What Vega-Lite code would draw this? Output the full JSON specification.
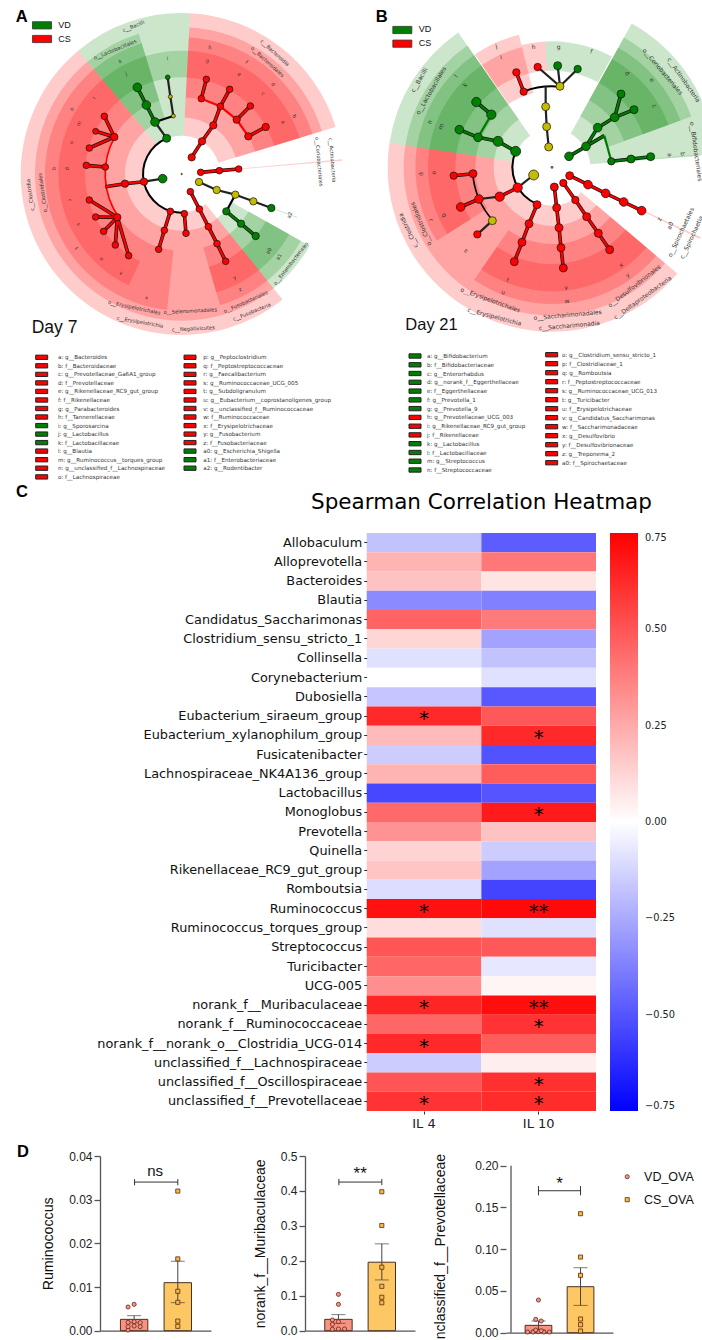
{"$schema":"https://vega.github.io/schema/vega-lite/v6.json","padding":0,"background":"white","bounds":"flush","spacing":0,"columns":6,"align":{"row":"each","column":"none"},
"config":{"view":{"stroke":null},"axis":{"grid":false}},
"datasets":{
"none":[],
"wedgesA":[
{"g":"CS","t0":3,"t1":73,"r0":115,"r1":483},{"g":"CS","t0":3,"t1":73,"r0":170,"r1":440},
{"g":"CS","t0":3,"t1":21.7,"r0":230,"r1":410},{"g":"CS","t0":21.7,"t1":41,"r0":230,"r1":410},{"g":"CS","t0":41,"t1":53.5,"r0":230,"r1":410},{"g":"CS","t0":53.5,"t1":73,"r0":230,"r1":410},
{"g":"CS","t0":3,"t1":21.7,"r0":290,"r1":370},{"g":"CS","t0":21.7,"t1":41,"r0":290,"r1":370},{"g":"CS","t0":41,"t1":53.5,"r0":290,"r1":370},{"g":"CS","t0":53.5,"t1":73,"r0":290,"r1":370},
{"g":"CS","t0":84.7,"t1":85.3,"r0":170,"r1":483},
{"g":"VD","t0":320,"t1":363,"r0":115,"r1":483},{"g":"VD","t0":320,"t1":343,"r0":170,"r1":440},{"g":"VD","t0":320,"t1":343,"r0":230,"r1":410},{"g":"VD","t0":320,"t1":343,"r0":290,"r1":370},{"g":"VD","t0":343,"t1":363,"r0":290,"r1":370},
{"g":"CS","t0":205.4,"t1":320,"r0":115,"r1":483},{"g":"CS","t0":205.4,"t1":320,"r0":170,"r1":440},
{"g":"CS","t0":280.3,"t1":320,"r0":230,"r1":410},{"g":"CS","t0":264.5,"t1":280.3,"r0":230,"r1":410},{"g":"CS","t0":205.4,"t1":264.5,"r0":230,"r1":410},
{"g":"CS","t0":301.4,"t1":320,"r0":290,"r1":370},{"g":"CS","t0":290.4,"t1":301.4,"r0":290,"r1":370},{"g":"CS","t0":280.3,"t1":290.4,"r0":290,"r1":370},{"g":"CS","t0":264.5,"t1":280.3,"r0":290,"r1":370},
{"g":"CS","t0":252.3,"t1":264.5,"r0":290,"r1":370},{"g":"CS","t0":243.4,"t1":252.3,"r0":290,"r1":370},{"g":"CS","t0":234,"t1":243.4,"r0":290,"r1":370},{"g":"CS","t0":220.4,"t1":234,"r0":290,"r1":370},{"g":"CS","t0":205.4,"t1":220.4,"r0":290,"r1":370},
{"g":"CS","t0":186.1,"t1":205.4,"r0":115,"r1":483},{"g":"CS","t0":186.1,"t1":205.4,"r0":170,"r1":440},{"g":"CS","t0":186.1,"t1":205.4,"r0":230,"r1":410},
{"g":"CS","t0":163.7,"t1":186.1,"r0":115,"r1":483},{"g":"CS","t0":163.7,"t1":186.1,"r0":170,"r1":440},
{"g":"CS","t0":141.2,"t1":163.7,"r0":115,"r1":483},{"g":"CS","t0":141.2,"t1":163.7,"r0":170,"r1":440},{"g":"CS","t0":141.2,"t1":163.7,"r0":230,"r1":410},{"g":"CS","t0":141.2,"t1":163.7,"r0":290,"r1":370},
{"g":"VD","t0":119.3,"t1":141.2,"r0":170,"r1":440},{"g":"VD","t0":119.3,"t1":141.2,"r0":230,"r1":410},{"g":"VD","t0":119.3,"t1":141.2,"r0":290,"r1":370},
{"g":"VD","t0":110.4,"t1":110.9,"r0":290,"r1":370}],
"spineA":[{"g":"bb","t0":176,"t1":337,"r0":113,"r1":119},{"g":"CS","t0":236,"t1":299,"r0":227,"r1":232}],
"edgesA":[
{"x":500,"y":415,"x2":465,"y2":366,"k":"ns"},{"x":465,"y":366,"x2":520,"y2":348,"k":"bb"},{"x":520,"y":348,"x2":511,"y2":290,"k":"ns"},{"x":511,"y":290,"x2":503,"y2":232,"k":"ns"},
{"x":465,"y":366,"x2":439,"y2":315,"k":"VD"},{"x":439,"y":315,"x2":412,"y2":262,"k":"VD"},
{"x":575,"y":472,"x2":606,"y2":424,"k":"CS"},{"x":606,"y":424,"x2":640,"y2":376,"k":"CS"},{"x":640,"y":376,"x2":661,"y2":319,"k":"CS"},{"x":661,"y":319,"x2":689,"y2":268,"k":"CS"},
{"x":661,"y":319,"x2":604,"y2":296,"k":"thin"},{"x":604,"y":296,"x2":619,"y2":238,"k":"CS"},{"x":661,"y":319,"x2":710,"y2":359,"k":"thin"},{"x":710,"y":359,"x2":751,"y2":318,"k":"CS"},{"x":710,"y":359,"x2":745,"y2":409,"k":"thin"},{"x":745,"y":409,"x2":797,"y2":381,"k":"CS"},
{"x":602,"y":517,"x2":658,"y2":512,"k":"CS"},{"x":658,"y":512,"x2":716,"y2":507,"k":"CS"},
{"x":597,"y":546,"x2":650,"y2":570,"k":"ns"},{"x":650,"y":570,"x2":706,"y2":584,"k":"ns"},{"x":706,"y":584,"x2":760,"y2":604,"k":"ns"},{"x":760,"y":604,"x2":814,"y2":624,"k":"ns"},
{"x":706,"y":584,"x2":679,"y2":634,"k":"bb"},{"x":679,"y":634,"x2":723,"y2":671,"k":"VD"},{"x":723,"y":671,"x2":767,"y2":708,"k":"VD"},
{"x":571,"y":575,"x2":598,"y2":627,"k":"CS"},{"x":598,"y":627,"x2":625,"y2":680,"k":"CS"},{"x":625,"y":680,"x2":651,"y2":731,"k":"CS"},{"x":651,"y":731,"x2":677,"y2":784,"k":"CS"},
{"x":553,"y":641,"x2":558,"y2":700,"k":"CS"},{"x":511,"y":634,"x2":493,"y2":691,"k":"CS"},{"x":493,"y":691,"x2":476,"y2":748,"k":"CS"},
{"x":432,"y":545,"x2":488,"y2":536,"k":"ns"},{"x":432,"y":545,"x2":375,"y2":551,"k":"CS"},{"x":375,"y":551,"x2":316,"y2":560,"k":"CS"},
{"x":343,"y":411,"x2":313,"y2":349,"k":"CS"},{"x":343,"y":411,"x2":287,"y2":394,"k":"CS"},{"x":343,"y":411,"x2":268,"y2":444,"k":"CS"},{"x":316,"y":501,"x2":259,"y2":496,"k":"CS"},
{"x":352,"y":652,"x2":268,"y2":600,"k":"CS"},{"x":352,"y":652,"x2":287,"y2":651,"k":"CS"},{"x":352,"y":652,"x2":311,"y2":694,"k":"CS"},{"x":352,"y":652,"x2":346,"y2":735,"k":"CS"},{"x":352,"y":652,"x2":386,"y2":767,"k":"CS"}],
"nodesA":[
{"x":545,"y":522,"g":"ns","abund":2},{"x":500,"y":415,"g":"VD","abund":64},{"x":465,"y":366,"g":"VD","abund":75},{"x":439,"y":315,"g":"VD","abund":75},{"x":412,"y":262,"g":"VD","abund":75},{"x":520,"y":348,"g":"ns","abund":16},{"x":511,"y":290,"g":"ns","abund":16},{"x":503,"y":232,"g":"VD","abund":22},
{"x":575,"y":472,"g":"CS","abund":54},{"x":606,"y":424,"g":"CS","abund":54},{"x":640,"y":376,"g":"CS","abund":54},{"x":661,"y":319,"g":"CS","abund":44},{"x":689,"y":268,"g":"CS","abund":44},{"x":604,"y":296,"g":"CS","abund":44},{"x":619,"y":238,"g":"CS","abund":44},{"x":710,"y":359,"g":"CS","abund":54},{"x":751,"y":318,"g":"CS","abund":44},{"x":745,"y":409,"g":"CS","abund":54},{"x":797,"y":381,"g":"CS","abund":54},
{"x":602,"y":517,"g":"CS","abund":44},{"x":658,"y":512,"g":"CS","abund":44},{"x":716,"y":507,"g":"CS","abund":44},
{"x":597,"y":546,"g":"ns","abund":54},{"x":650,"y":570,"g":"ns","abund":54},{"x":706,"y":584,"g":"ns","abund":54},{"x":760,"y":604,"g":"ns","abund":54},{"x":814,"y":624,"g":"VD","abund":54},
{"x":679,"y":634,"g":"VD","abund":54},{"x":723,"y":671,"g":"VD","abund":54},{"x":767,"y":708,"g":"VD","abund":54},
{"x":571,"y":575,"g":"CS","abund":44},{"x":598,"y":627,"g":"CS","abund":44},{"x":625,"y":680,"g":"CS","abund":44},{"x":651,"y":731,"g":"CS","abund":44},{"x":677,"y":784,"g":"CS","abund":44},
{"x":553,"y":641,"g":"CS","abund":44},{"x":558,"y":700,"g":"CS","abund":44},{"x":511,"y":634,"g":"CS","abund":44},{"x":493,"y":691,"g":"CS","abund":44},{"x":476,"y":748,"g":"CS","abund":44},
{"x":432,"y":545,"g":"CS","abund":54},{"x":375,"y":551,"g":"CS","abund":54},{"x":488,"y":536,"g":"VD","abund":75},
{"x":343,"y":411,"g":"CS","abund":54},{"x":313,"y":349,"g":"CS","abund":44},{"x":287,"y":394,"g":"CS","abund":36},{"x":268,"y":444,"g":"CS","abund":44},{"x":316,"y":501,"g":"CS","abund":44},{"x":259,"y":496,"g":"CS","abund":44},
{"x":352,"y":652,"g":"CS","abund":54},{"x":268,"y":600,"g":"CS","abund":44},{"x":287,"y":651,"g":"CS","abund":44},{"x":311,"y":694,"g":"CS","abund":44},{"x":346,"y":735,"g":"CS","abund":44},{"x":386,"y":767,"g":"CS","abund":44}],
"labelsA":[
{"x":400,"y":78,"t":"c__Bacilli","a":-22},{"x":345,"y":148,"t":"o__Lactobacillales","a":-22},{"x":360,"y":183,"t":"k","a":-22},{"x":378,"y":220,"t":"j","a":-20},{"x":502,"y":175,"t":"i","a":0},
{"x":630,"y":142,"t":"h","a":10},{"x":622,"y":181,"t":"g","a":10},{"x":740,"y":186,"t":"f","a":30},{"x":718,"y":222,"t":"e","a":30},{"x":820,"y":252,"t":"d","a":45},{"x":790,"y":280,"t":"c","a":45},{"x":884,"y":348,"t":"b","a":62},{"x":850,"y":366,"t":"a","a":62},
{"x":825,"y":158,"t":"c__Bacteroidia","a":42},{"x":803,"y":185,"t":"o__Bacteroidales","a":42},{"x":998,"y":480,"t":"c__Actinobacteria","a":85},{"x":958,"y":485,"t":"o__Coriobacteriales","a":85},
{"x":868,"y":645,"t":"a2","a":-70},{"x":872,"y":790,"t":"o__Enterobacteriales","a":-52},{"x":836,"y":770,"t":"a1","a":-60},{"x":806,"y":752,"t":"a0","a":-60},
{"x":720,"y":867,"t":"z","a":-30},{"x":703,"y":832,"t":"y","a":-30},{"x":737,"y":905,"t":"o__Fusobacteriales","a":-24},{"x":755,"y":935,"t":"c__Fusobacteria","a":-22},
{"x":571,"y":932,"t":"o__Selenomonadales","a":-3},{"x":580,"y":985,"t":"c__Negativicutes","a":-3},{"x":420,"y":965,"t":"c__Erysipelotrichia","a":10},{"x":403,"y":922,"t":"o__Erysipelotrichales","a":12},{"x":440,"y":892,"t":"x","a":10},
{"x":363,"y":818,"t":"v","a":30},{"x":305,"y":775,"t":"u","a":40},{"x":230,"y":745,"t":"t","a":50},{"x":237,"y":672,"t":"s","a":60},{"x":210,"y":600,"t":"r","a":75},{"x":165,"y":505,"t":"q","a":85},{"x":204,"y":506,"t":"p","a":85},{"x":214,"y":428,"t":"n","a":-75},{"x":236,"y":370,"t":"m","a":-65},{"x":282,"y":294,"t":"l","a":-55},{"x":215,"y":327,"t":"o","a":-60},
{"x":90,"y":585,"t":"c__Clostridia","a":-98},{"x":127,"y":578,"t":"o__Clostridiales","a":-98}],
"capsA":[{"x":175,"y":75,"t":"VD"},{"x":175,"y":117,"t":"CS"}],
"dayA":[{"x":95,"y":985,"t":"Day 7"}],
"swA":[{"x":126,"y":76,"g":"VD"},{"x":126,"y":117,"g":"CS"}],
"letterA":[{"x":65,"y":52,"t":"A"}],
"wedgesB":[
{"g":"VD","t0":278.5,"t1":325.2,"r0":115,"r1":493},{"g":"VD","t0":278.5,"t1":325.2,"r0":175,"r1":445},{"g":"VD","t0":301.6,"t1":325.2,"r0":230,"r1":410},{"g":"VD","t0":278.5,"t1":301.6,"r0":230,"r1":410},{"g":"VD","t0":301.6,"t1":325.2,"r0":290,"r1":372},{"g":"VD","t0":278.5,"t1":301.6,"r0":290,"r1":372},
{"g":"CS","t0":325.6,"t1":346,"r0":230,"r1":410},{"g":"CS","t0":325.6,"t1":346,"r0":290,"r1":372},{"g":"CS","t0":346,"t1":357,"r0":290,"r1":378},{"g":"VD","t0":357,"t1":368.4,"r0":290,"r1":378},{"g":"VD","t0":368.4,"t1":388.4,"r0":290,"r1":378},
{"g":"VD","t0":29,"t1":85.3,"r0":115,"r1":493},{"g":"VD","t0":29,"t1":70,"r0":175,"r1":445},{"g":"VD","t0":29,"t1":70,"r0":230,"r1":410},{"g":"VD","t0":29,"t1":49.3,"r0":290,"r1":372},{"g":"VD","t0":49.3,"t1":70,"r0":290,"r1":372},{"g":"VD","t0":85,"t1":85.6,"r0":175,"r1":445},
{"g":"CS","t0":214.7,"t1":278.5,"r0":115,"r1":493},{"g":"CS","t0":214.7,"t1":278.5,"r0":175,"r1":445},{"g":"CS","t0":256.7,"t1":278.5,"r0":230,"r1":410},{"g":"CS","t0":237.5,"t1":256.7,"r0":230,"r1":410},{"g":"CS","t0":256.7,"t1":278.5,"r0":290,"r1":372},{"g":"CS","t0":237.5,"t1":256.7,"r0":290,"r1":372},
{"g":"CS","t0":187.7,"t1":214.7,"r0":115,"r1":493},{"g":"CS","t0":187.7,"t1":214.7,"r0":175,"r1":445},{"g":"CS","t0":187.7,"t1":214.7,"r0":230,"r1":410},{"g":"CS","t0":187.7,"t1":214.7,"r0":290,"r1":372},
{"g":"CS","t0":158.1,"t1":187.7,"r0":115,"r1":493},{"g":"CS","t0":158.1,"t1":187.7,"r0":175,"r1":445},{"g":"CS","t0":158.1,"t1":187.7,"r0":230,"r1":410},{"g":"CS","t0":158.1,"t1":187.7,"r0":290,"r1":372},
{"g":"CS","t0":130.3,"t1":158.1,"r0":115,"r1":493},{"g":"CS","t0":130.3,"t1":158.1,"r0":175,"r1":445},{"g":"CS","t0":130.3,"t1":158.1,"r0":230,"r1":410},{"g":"CS","t0":130.3,"t1":158.1,"r0":290,"r1":372},
{"g":"CS","t0":115.2,"t1":115.9,"r0":290,"r1":493}],
"spineB":[{"g":"bb","t0":202,"t1":294,"r0":116,"r1":122},{"g":"bb","t0":339.5,"t1":365.6,"r0":240,"r1":246},{"g":"bb","t0":228,"t1":265,"r0":236,"r1":241}],
"edgesB":[
{"x":494,"y":454,"x2":441,"y2":424,"k":"VD"},{"x":441,"y":424,"x2":381,"y2":412,"k":"VD"},{"x":381,"y":412,"x2":325,"y2":389,"k":"VD"},{"x":381,"y":412,"x2":421,"y2":344,"k":"thing"},{"x":421,"y":344,"x2":376,"y2":306,"k":"VD"},
{"x":500,"y":563,"x2":548,"y2":525,"k":"ns"},{"x":500,"y":563,"x2":446,"y2":590,"k":"CS"},{"x":446,"y":590,"x2":384,"y2":597,"k":"ns"},{"x":384,"y":597,"x2":329,"y2":621,"k":"CS"},{"x":366,"y":521,"x2":308,"y2":527,"k":"CS"},{"x":424,"y":662,"x2":379,"y2":703,"k":"ns"},
{"x":558,"y":614,"x2":534,"y2":671,"k":"CS"},{"x":534,"y":671,"x2":513,"y2":727,"k":"CS"},{"x":513,"y":727,"x2":490,"y2":785,"k":"CS"},
{"x":610,"y":561,"x2":617,"y2":623,"k":"CS"},{"x":617,"y":623,"x2":624,"y2":683,"k":"CS"},{"x":624,"y":683,"x2":630,"y2":743,"k":"CS"},{"x":630,"y":743,"x2":637,"y2":804,"k":"CS"},
{"x":637,"y":549,"x2":673,"y2":600,"k":"CS"},{"x":673,"y":600,"x2":707,"y2":650,"k":"CS"},{"x":707,"y":650,"x2":742,"y2":700,"k":"CS"},{"x":742,"y":700,"x2":776,"y2":749,"k":"CS"},
{"x":656,"y":527,"x2":711,"y2":554,"k":"CS"},{"x":711,"y":554,"x2":764,"y2":580,"k":"CS"},{"x":764,"y":580,"x2":818,"y2":606,"k":"CS"},{"x":818,"y":606,"x2":872,"y2":632,"k":"CS"},
{"x":654,"y":469,"x2":705,"y2":439,"k":"VD"},{"x":705,"y":439,"x2":740,"y2":383,"k":"VD"},{"x":740,"y":383,"x2":791,"y2":352,"k":"VD"},{"x":791,"y":352,"x2":810,"y2":282,"k":"VD"},{"x":791,"y":352,"x2":849,"y2":329,"k":"VD"},{"x":705,"y":439,"x2":760,"y2":407,"k":"VD"},{"x":760,"y":407,"x2":781,"y2":484,"k":"thing"},{"x":781,"y":484,"x2":840,"y2":477,"k":"VD"},{"x":840,"y":477,"x2":899,"y2":470,"k":"VD"},
{"x":518,"y":275,"x2":496,"y2":217,"k":"CS"},{"x":627,"y":259,"x2":560,"y2":201,"k":"ns"},{"x":627,"y":259,"x2":620,"y2":197,"k":"ns"},{"x":627,"y":259,"x2":680,"y2":207,"k":"ns"},{"x":584,"y":320,"x2":584,"y2":258,"k":"ns"},{"x":584,"y":320,"x2":587,"y2":380,"k":"ns"},{"x":587,"y":380,"x2":593,"y2":441,"k":"ns"}],
"nodesB":[
{"x":603,"y":502,"g":"ns","abund":4},{"x":494,"y":454,"g":"VD","abund":100},{"x":441,"y":424,"g":"VD","abund":100},{"x":381,"y":412,"g":"VD","abund":75},{"x":325,"y":389,"g":"VD","abund":75},{"x":421,"y":344,"g":"VD","abund":87},{"x":376,"y":306,"g":"VD","abund":87},
{"x":548,"y":525,"g":"ns","abund":100},{"x":500,"y":563,"g":"CS","abund":87},{"x":446,"y":590,"g":"CS","abund":87},{"x":384,"y":597,"g":"CS","abund":75},{"x":329,"y":621,"g":"CS","abund":75},{"x":366,"y":521,"g":"CS","abund":64},{"x":308,"y":527,"g":"CS","abund":54},{"x":424,"y":662,"g":"ns","abund":64},{"x":379,"y":703,"g":"CS","abund":54},
{"x":558,"y":614,"g":"CS","abund":64},{"x":534,"y":671,"g":"CS","abund":64},{"x":513,"y":727,"g":"CS","abund":64},{"x":490,"y":785,"g":"CS","abund":64},
{"x":610,"y":561,"g":"CS","abund":64},{"x":617,"y":623,"g":"CS","abund":64},{"x":624,"y":683,"g":"CS","abund":64},{"x":630,"y":743,"g":"CS","abund":64},{"x":637,"y":804,"g":"CS","abund":64},
{"x":637,"y":549,"g":"CS","abund":54},{"x":673,"y":600,"g":"CS","abund":54},{"x":707,"y":650,"g":"CS","abund":64},{"x":742,"y":700,"g":"CS","abund":64},{"x":776,"y":749,"g":"CS","abund":64},
{"x":656,"y":527,"g":"CS","abund":64},{"x":711,"y":554,"g":"CS","abund":75},{"x":764,"y":580,"g":"CS","abund":75},{"x":818,"y":606,"g":"CS","abund":75},{"x":872,"y":632,"g":"CS","abund":75},
{"x":654,"y":469,"g":"VD","abund":75},{"x":705,"y":439,"g":"VD","abund":75},{"x":740,"y":383,"g":"VD","abund":75},{"x":791,"y":352,"g":"VD","abund":75},{"x":810,"y":282,"g":"VD","abund":64},{"x":849,"y":329,"g":"VD","abund":64},{"x":781,"y":484,"g":"VD","abund":54},{"x":840,"y":477,"g":"VD","abund":64},{"x":899,"y":470,"g":"VD","abund":64},
{"x":518,"y":275,"g":"CS","abund":54},{"x":496,"y":217,"g":"CS","abund":54},{"x":560,"y":201,"g":"CS","abund":54},{"x":627,"y":259,"g":"ns","abund":64},{"x":620,"y":197,"g":"VD","abund":64},{"x":680,"y":207,"g":"VD","abund":54},{"x":584,"y":320,"g":"ns","abund":64},{"x":587,"y":380,"g":"ns","abund":64},{"x":593,"y":441,"g":"ns","abund":64}],
"labelsB":[
{"x":205,"y":240,"t":"c__Bacilli","a":-60},{"x":240,"y":272,"t":"o__Lactobacillales","a":-60},{"x":315,"y":228,"t":"l","a":-50},{"x":342,"y":255,"t":"k","a":-50},{"x":236,"y":366,"t":"n","a":-70},{"x":270,"y":380,"t":"m","a":-70},{"x":436,"y":138,"t":"j","a":-15},{"x":450,"y":172,"t":"i","a":-15},{"x":548,"y":140,"t":"h","a":0},{"x":623,"y":140,"t":"g","a":0},{"x":721,"y":155,"t":"f","a":15},
{"x":998,"y":240,"t":"c__Actinobacteria","a":55},{"x":935,"y":215,"t":"o__Coriobacteriales","a":50},{"x":829,"y":220,"t":"d","a":35},{"x":903,"y":240,"t":"e","a":45},{"x":910,"y":318,"t":"c","a":60},{"x":1035,"y":455,"t":"o__Bifidobacteriales","a":82},{"x":995,"y":462,"t":"b","a":85},{"x":956,"y":465,"t":"a","a":85},
{"x":925,"y":658,"t":"z","a":-65},{"x":958,"y":677,"t":"a0","a":-65},{"x":990,"y":697,"t":"o__Spirochaetales","a":-65},{"x":1022,"y":712,"t":"c__Spirochaetia","a":-65},
{"x":875,"y":893,"t":"c__Deltaproteobacteria","a":-36},{"x":850,"y":858,"t":"o__Desulfovibrionales","a":-38},{"x":810,"y":795,"t":"x","a":-35},{"x":830,"y":825,"t":"y","a":-35},
{"x":655,"y":977,"t":"c__Saccharimonadia","a":-5},{"x":650,"y":945,"t":"o__Saccharimonadales","a":-5},{"x":648,"y":903,"t":"w","a":-5},{"x":645,"y":863,"t":"v","a":-5},
{"x":430,"y":950,"t":"c__Erysipelotrichia","a":15},{"x":418,"y":900,"t":"o__Erysipelotrichales","a":20},{"x":457,"y":877,"t":"u","a":20},{"x":470,"y":840,"t":"t","a":20},
{"x":345,"y":752,"t":"s","a":45},{"x":240,"y":660,"t":"r","a":70},{"x":280,"y":645,"t":"q","a":70},{"x":212,"y":522,"t":"p","a":85},{"x":250,"y":518,"t":"o","a":85},{"x":210,"y":672,"t":"o__Clostridiales","a":-112},{"x":172,"y":692,"t":"c__Clostridia","a":-115}],
"capsB":[{"x":203,"y":88,"t":"VD"},{"x":203,"y":130,"t":"CS"}],
"dayB":[{"x":163,"y":975,"t":"Day 21"}],
"swB":[{"x":154,"y":90,"g":"VD"},{"x":154,"y":131,"g":"CS"}],
"letterB":[{"x":92,"y":52,"t":"B"}],
"lists":[
{"sx":41.7,"tx":58,"y":357.3,"g":"CS","t":"a: g__Bacteroides"},{"sx":41.7,"tx":58,"y":365.8,"g":"CS","t":"b: f__Bacteroidaceae"},{"sx":41.7,"tx":58,"y":374.4,"g":"CS","t":"c: g__Prevotellaceae_Ga6A1_group"},{"sx":41.7,"tx":58,"y":382.9,"g":"CS","t":"d: f__Prevotellaceae"},{"sx":41.7,"tx":58,"y":391.4,"g":"CS","t":"e: g__Rikenellaceae_RC9_gut_group"},{"sx":41.7,"tx":58,"y":400,"g":"CS","t":"f: f__Rikenellaceae"},{"sx":41.7,"tx":58,"y":408.5,"g":"CS","t":"g: g__Parabacteroides"},{"sx":41.7,"tx":58,"y":417,"g":"CS","t":"h: f__Tannerellaceae"},{"sx":41.7,"tx":58,"y":425.6,"g":"VD","t":"i: g__Sporosarcina"},{"sx":41.7,"tx":58,"y":434.1,"g":"VD","t":"j: g__Lactobacillus"},{"sx":41.7,"tx":58,"y":442.6,"g":"VD","t":"k: f__Lactobacillaceae"},{"sx":41.7,"tx":58,"y":451.1,"g":"CS","t":"l: g__Blautia"},{"sx":41.7,"tx":58,"y":459.7,"g":"CS","t":"m: g__Ruminococcus__torques_group"},{"sx":41.7,"tx":58,"y":468.2,"g":"CS","t":"n: g__unclassified_f__Lachnospiraceae"},{"sx":41.7,"tx":58,"y":476.9,"g":"CS","t":"o: f__Lachnospiraceae"},
{"sx":190,"tx":203.3,"y":357.3,"g":"CS","t":"p: g__Peptoclostridium"},{"sx":190,"tx":203.3,"y":365.8,"g":"CS","t":"q: f__Peptostreptococcaceae"},{"sx":190,"tx":203.3,"y":374.4,"g":"CS","t":"r: g__Faecalibacterium"},{"sx":190,"tx":203.3,"y":382.9,"g":"CS","t":"s: g__Ruminococcaceae_UCG_005"},{"sx":190,"tx":203.3,"y":391.4,"g":"CS","t":"t: g__Subdoligranulum"},{"sx":190,"tx":203.3,"y":400,"g":"CS","t":"u: g__Eubacterium__coprostanoligenes_group"},{"sx":190,"tx":203.3,"y":408.5,"g":"CS","t":"v: g__unclassified_f__Ruminococcaceae"},{"sx":190,"tx":203.3,"y":417,"g":"CS","t":"w: f__Ruminococcaceae"},{"sx":190,"tx":203.3,"y":425.6,"g":"CS","t":"x: f__Erysipelotrichaceae"},{"sx":190,"tx":203.3,"y":434.1,"g":"CS","t":"y: g__Fusobacterium"},{"sx":190,"tx":203.3,"y":442.6,"g":"CS","t":"z: f__Fusobacteriaceae"},{"sx":190,"tx":203.3,"y":451.1,"g":"VD","t":"a0: g__Escherichia_Shigella"},{"sx":190,"tx":203.3,"y":459.7,"g":"VD","t":"a1: f__Enterobacteriaceae"},{"sx":190,"tx":203.3,"y":468.2,"g":"VD","t":"a2: g__Rodentibacter"},
{"sx":415,"tx":427,"y":356,"g":"VD","t":"a: g__Bifidobacterium"},{"sx":415,"tx":427,"y":364.8,"g":"VD","t":"b: f__Bifidobacteriaceae"},{"sx":415,"tx":427,"y":373.5,"g":"VD","t":"c: g__Enterorhabdus"},{"sx":415,"tx":427,"y":382.3,"g":"VD","t":"d: g__norank_f__Eggerthellaceae"},{"sx":415,"tx":427,"y":391.1,"g":"VD","t":"e: f__Eggerthellaceae"},{"sx":415,"tx":427,"y":399.9,"g":"VD","t":"f: g__Prevotella_1"},{"sx":415,"tx":427,"y":408.6,"g":"VD","t":"g: g__Prevotella_9"},{"sx":415,"tx":427,"y":417.4,"g":"CS","t":"h: g__Prevotellaceae_UCG_003"},{"sx":415,"tx":427,"y":426.2,"g":"CS","t":"i: g__Rikenellaceae_RC9_gut_group"},{"sx":415,"tx":427,"y":434.9,"g":"CS","t":"j: f__Rikenellaceae"},{"sx":415,"tx":427,"y":443.7,"g":"VD","t":"k: g__Lactobacillus"},{"sx":415,"tx":427,"y":452.5,"g":"VD","t":"l: f__Lactobacillaceae"},{"sx":415,"tx":427,"y":461.2,"g":"VD","t":"m: g__Streptococcus"},{"sx":415,"tx":427,"y":470,"g":"VD","t":"n: f__Streptococcaceae"},
{"sx":551.7,"tx":562,"y":354.7,"g":"CS","t":"o: g__Clostridium_sensu_stricto_1"},{"sx":551.7,"tx":562,"y":363.7,"g":"CS","t":"p: f__Clostridiaceae_1"},{"sx":551.7,"tx":562,"y":372.7,"g":"CS","t":"q: g__Romboutsia"},{"sx":551.7,"tx":562,"y":381.7,"g":"CS","t":"r: f__Peptostreptococcaceae"},{"sx":551.7,"tx":562,"y":390.7,"g":"CS","t":"s: g__Ruminococcaceae_UCG_013"},{"sx":551.7,"tx":562,"y":399.7,"g":"CS","t":"t: g__Turicibacter"},{"sx":551.7,"tx":562,"y":408.7,"g":"CS","t":"u: f__Erysipelotrichaceae"},{"sx":551.7,"tx":562,"y":417.7,"g":"CS","t":"v: g__Candidatus_Saccharimonas"},{"sx":551.7,"tx":562,"y":426.7,"g":"CS","t":"w: f__Saccharimonadaceae"},{"sx":551.7,"tx":562,"y":435.7,"g":"CS","t":"x: g__Desulfovibrio"},{"sx":551.7,"tx":562,"y":444.7,"g":"CS","t":"y: f__Desulfovibrionaceae"},{"sx":551.7,"tx":562,"y":453.7,"g":"CS","t":"z: g__Treponema_2"},{"sx":551.7,"tx":562,"y":462.7,"g":"CS","t":"a0: f__Spirochaetaceae"}],
"heat":[
{"g":"Allobaculum","v":"IL 4","r":-0.18},{"g":"Allobaculum","v":"IL 10","r":-0.48},{"g":"Alloprevotella","v":"IL 4","r":0.22},{"g":"Alloprevotella","v":"IL 10","r":0.40},{"g":"Bacteroides","v":"IL 4","r":0.18},{"g":"Bacteroides","v":"IL 10","r":0.08},{"g":"Blautia","v":"IL 4","r":-0.34},{"g":"Blautia","v":"IL 10","r":-0.37},{"g":"Candidatus_Saccharimonas","v":"IL 4","r":0.46},{"g":"Candidatus_Saccharimonas","v":"IL 10","r":0.39},{"g":"Clostridium_sensu_stricto_1","v":"IL 4","r":0.12},{"g":"Clostridium_sensu_stricto_1","v":"IL 10","r":-0.27},{"g":"Collinsella","v":"IL 4","r":-0.09},{"g":"Collinsella","v":"IL 10","r":-0.18},{"g":"Corynebacterium","v":"IL 4","r":0.0},{"g":"Corynebacterium","v":"IL 10","r":-0.09},{"g":"Dubosiella","v":"IL 4","r":-0.17},{"g":"Dubosiella","v":"IL 10","r":-0.49},
{"g":"Eubacterium_siraeum_group","v":"IL 4","r":0.63,"s":"*"},{"g":"Eubacterium_siraeum_group","v":"IL 10","r":0.49},{"g":"Eubacterium_xylanophilum_group","v":"IL 4","r":0.2},{"g":"Eubacterium_xylanophilum_group","v":"IL 10","r":0.63,"s":"*"},{"g":"Fusicatenibacter","v":"IL 4","r":-0.15},{"g":"Fusicatenibacter","v":"IL 10","r":-0.51},{"g":"Lachnospiraceae_NK4A136_group","v":"IL 4","r":0.22},{"g":"Lachnospiraceae_NK4A136_group","v":"IL 10","r":0.48},{"g":"Lactobacillus","v":"IL 4","r":-0.54},{"g":"Lactobacillus","v":"IL 10","r":-0.50},{"g":"Monoglobus","v":"IL 4","r":0.44},{"g":"Monoglobus","v":"IL 10","r":0.67,"s":"*"},{"g":"Prevotella","v":"IL 4","r":0.32},{"g":"Prevotella","v":"IL 10","r":0.18},{"g":"Quinella","v":"IL 4","r":0.13},{"g":"Quinella","v":"IL 10","r":-0.15},{"g":"Rikenellaceae_RC9_gut_group","v":"IL 4","r":0.17},{"g":"Rikenellaceae_RC9_gut_group","v":"IL 10","r":-0.27},{"g":"Romboutsia","v":"IL 4","r":-0.10},{"g":"Romboutsia","v":"IL 10","r":-0.55},
{"g":"Ruminococcus","v":"IL 4","r":0.70,"s":"*"},{"g":"Ruminococcus","v":"IL 10","r":0.72,"s":"**"},{"g":"Ruminococcus_torques_group","v":"IL 4","r":0.10},{"g":"Ruminococcus_torques_group","v":"IL 10","r":-0.09},{"g":"Streptococcus","v":"IL 4","r":0.50},{"g":"Streptococcus","v":"IL 10","r":0.49},{"g":"Turicibacter","v":"IL 4","r":0.45},{"g":"Turicibacter","v":"IL 10","r":-0.07},{"g":"UCG-005","v":"IL 4","r":0.33},{"g":"UCG-005","v":"IL 10","r":0.03},{"g":"norank_f__Muribaculaceae","v":"IL 4","r":0.64,"s":"*"},{"g":"norank_f__Muribaculaceae","v":"IL 10","r":0.71,"s":"**"},{"g":"norank_f__Ruminococcaceae","v":"IL 4","r":0.45},{"g":"norank_f__Ruminococcaceae","v":"IL 10","r":0.60,"s":"*"},{"g":"norank_f__norank_o__Clostridia_UCG-014","v":"IL 4","r":0.63,"s":"*"},{"g":"norank_f__norank_o__Clostridia_UCG-014","v":"IL 10","r":0.48},{"g":"unclassified_f__Lachnospiraceae","v":"IL 4","r":-0.15},{"g":"unclassified_f__Lachnospiraceae","v":"IL 10","r":0.05},{"g":"unclassified_f__Oscillospiraceae","v":"IL 4","r":0.50},{"g":"unclassified_f__Oscillospiraceae","v":"IL 10","r":0.61,"s":"*"},{"g":"unclassified_f__Prevotellaceae","v":"IL 4","r":0.60,"s":"*"},{"g":"unclassified_f__Prevotellaceae","v":"IL 10","r":0.62,"s":"*"}],
"bar1":[{"pos":1,"g":"VD_OVA","m":0.0026,"lo":0.0018,"hi":0.00344},{"pos":2,"g":"CS_OVA","m":0.011,"lo":0.00642,"hi":0.0159}],
"pts1":[{"pos":0.861,"g":"VD_OVA","v":0.00543},{"pos":1,"g":"VD_OVA","v":0.00604},{"pos":0.861,"g":"VD_OVA","v":0.00015},{"pos":0.861,"g":"VD_OVA","v":0.00092},{"pos":1,"g":"VD_OVA","v":0.00207},{"pos":1,"g":"VD_OVA","v":0.00107},{"pos":1.139,"g":"VD_OVA","v":0.00184},{"pos":1.139,"g":"VD_OVA","v":0.00092},{"pos":0.861,"g":"VD_OVA","v":0.0019},
{"pos":2,"g":"CS_OVA","v":0.03197},{"pos":2,"g":"CS_OVA","v":0.01644},{"pos":2,"g":"CS_OVA","v":0.00902},{"pos":2,"g":"CS_OVA","v":0.0065},{"pos":2,"g":"CS_OVA","v":0.0022},{"pos":2,"g":"CS_OVA","v":0.001}],
"br1":[{"a":1.01,"b":2,"mid":1.48,"y":0.03403,"c0":0.0333,"c1":0.0347,"ty":0.03648,"t":"ns"}],
"bar2":[{"pos":1,"g":"VD_OVA","m":0.0325,"lo":0.021,"hi":0.046},{"pos":2,"g":"CS_OVA","m":0.196,"lo":0.1453,"hi":0.2486}],
"pts2":[{"pos":1,"g":"VD_OVA","v":0.104},{"pos":1,"g":"VD_OVA","v":0.0755},{"pos":0.86,"g":"VD_OVA","v":0.0306},{"pos":1,"g":"VD_OVA","v":0.0258},{"pos":0.86,"g":"VD_OVA","v":0.0182},{"pos":0.86,"g":"VD_OVA","v":0.004},{"pos":1,"g":"VD_OVA","v":0.005},{"pos":1.14,"g":"VD_OVA","v":0.005},
{"pos":2,"g":"CS_OVA","v":0.3977},{"pos":2,"g":"CS_OVA","v":0.3011},{"pos":2,"g":"CS_OVA","v":0.1816},{"pos":2,"g":"CS_OVA","v":0.127},{"pos":2,"g":"CS_OVA","v":0.0956},{"pos":2,"g":"CS_OVA","v":0.08}],
"br2":[{"a":1.01,"b":2,"mid":1.5,"y":0.4254,"c0":0.4164,"c1":0.4344,"ty":0.456,"t":"**"}],
"bar3":[{"pos":1,"g":"VD_OVA","m":0.0088,"lo":0.0032,"hi":0.014},{"pos":2,"g":"CS_OVA","m":0.0551,"lo":0.0327,"hi":0.0778}],
"pts3":[{"pos":1,"g":"VD_OVA","v":0.0391},{"pos":0.935,"g":"VD_OVA","v":0.016},{"pos":1.065,"g":"VD_OVA","v":0.014},{"pos":0.741,"g":"VD_OVA","v":0.0008},{"pos":0.871,"g":"VD_OVA","v":0.0008},{"pos":1,"g":"VD_OVA","v":0.0012},{"pos":1.129,"g":"VD_OVA","v":0.0008},{"pos":1.259,"g":"VD_OVA","v":0.0008},{"pos":0.935,"g":"VD_OVA","v":0.0032},{"pos":1.065,"g":"VD_OVA","v":0.0024},
{"pos":2,"g":"CS_OVA","v":0.1425},{"pos":2,"g":"CS_OVA","v":0.0906},{"pos":2,"g":"CS_OVA","v":0.0687},{"pos":2,"g":"CS_OVA","v":0.0164},{"pos":2,"g":"CS_OVA","v":0.0096},{"pos":2,"g":"CS_OVA","v":0.002}],
"br3":[{"a":1,"b":2,"mid":1.5,"y":0.17,"c0":0.1645,"c1":0.1755,"ty":0.182,"t":"*"}],
"key3":[{"pos":3.11,"tpos":3.51,"g":"VD_OVA","v":0.1868},{"pos":3.11,"tpos":3.51,"g":"CS_OVA","v":0.1593}],
"axis3":[{"pos":0.347,"y0":0,"y1":0.2}]
},
"concat":[
{"width":100,"height":345,
"layer":[
{"data":{"name":"wedgesA"},"mark":{"type":"arc","opacity":0.2},"encoding":{"x":{"datum":545,"type":"quantitative","scale":{"domain":[0,300],"nice":false,"zero":false},"axis":null},"y":{"datum":522,"type":"quantitative","scale":{"domain":[1035,0],"nice":false,"zero":false},"axis":null},"theta":{"field":"t0","type":"quantitative","stack":null,"scale":{"domain":[0,360],"range":[0,6.28318]}},"theta2":{"field":"t1"},"radius":{"field":"r0","type":"quantitative","scale":{"type":"linear","domain":[0,600],"range":[0,200]}},"radius2":{"field":"r1"},"color":{"field":"g","type":"nominal","scale":{"domain":["VD","CS","ns","bb"],"range":["#008000","#ff0000","#c4bc00","#000000"]},"legend":null}}},
{"data":{"name":"spineA"},"mark":{"type":"arc"},"encoding":{"x":{"datum":545,"type":"quantitative","axis":null},"y":{"datum":522,"type":"quantitative","axis":null},"theta":{"field":"t0","type":"quantitative","stack":null},"theta2":{"field":"t1"},"radius":{"field":"r0","type":"quantitative"},"radius2":{"field":"r1"},"color":{"field":"g","type":"nominal","legend":null}}},
{"data":{"name":"edgesA"},"transform":[{"filter":"datum.k=='CS'||datum.k=='VD'"}],"mark":{"type":"rule","color":"#111","strokeWidth":3.6},"encoding":{"x":{"field":"x","type":"quantitative","axis":null},"y":{"field":"y","type":"quantitative","axis":null},"x2":{"field":"x2"},"y2":{"field":"y2"}}},
{"data":{"name":"edgesA"},"mark":{"type":"rule"},"encoding":{"x":{"field":"x","type":"quantitative","axis":null},"y":{"field":"y","type":"quantitative","axis":null},"x2":{"field":"x2"},"y2":{"field":"y2"},"stroke":{"field":"k","type":"nominal","scale":{"domain":["CS","VD","ns","bb","thin","thing"],"range":["#ff0000","#007a00","#222222","#000000","#ff0000","#007a00"]},"legend":null},"strokeWidth":{"field":"k","type":"nominal","scale":{"domain":["CS","VD","ns","bb","thin","thing"],"range":[2.2,2.2,0.6,1.6,1.2,1.2]},"legend":null}}},
{"data":{"name":"nodesA"},"mark":{"type":"point","filled":true,"opacity":1,"stroke":"#111","strokeWidth":0.7,"shape":"circle"},"encoding":{"x":{"field":"x","type":"quantitative","axis":null},"y":{"field":"y","type":"quantitative","axis":null},"size":{"field":"abund","type":"quantitative","scale":{"type":"linear","domain":[0,100],"range":[0,100]},"legend":null},"color":{"field":"g","type":"nominal","legend":null}}},
{"data":{"name":"labelsA"},"mark":{"type":"text","font":"DejaVu Sans","fontSize":5.1,"color":"#333","align":"center","baseline":"middle"},"encoding":{"x":{"field":"x","type":"quantitative","axis":null},"y":{"field":"y","type":"quantitative","axis":null},"text":{"field":"t"},"angle":{"field":"a","type":"quantitative","scale":null}}},
{"data":{"name":"swA"},"mark":{"type":"point","shape":"M-1 -0.38H1V0.38H-1Z","filled":true,"opacity":1,"stroke":"#333","strokeWidth":0.8,"size":361},"encoding":{"x":{"field":"x","type":"quantitative","axis":null},"y":{"field":"y","type":"quantitative","axis":null},"color":{"field":"g","type":"nominal","legend":null}}},
{"data":{"name":"capsA"},"mark":{"type":"text","font":"Liberation Sans","fontSize":9,"color":"#111","align":"left","baseline":"middle"},"encoding":{"x":{"field":"x","type":"quantitative","axis":null},"y":{"field":"y","type":"quantitative","axis":null},"text":{"field":"t"}}},
{"data":{"name":"dayA"},"mark":{"type":"text","font":"Liberation Sans","fontSize":17.5,"color":"#111","align":"left","baseline":"middle"},"encoding":{"x":{"field":"x","type":"quantitative","axis":null},"y":{"field":"y","type":"quantitative","axis":null},"text":{"field":"t"}}},
{"data":{"name":"letterA"},"mark":{"type":"text","font":"Liberation Sans","fontWeight":"bold","fontSize":16.5,"color":"#000","align":"center","baseline":"middle"},"encoding":{"x":{"field":"x","type":"quantitative","axis":null},"y":{"field":"y","type":"quantitative","axis":null},"text":{"field":"t"}}}
]},
{"width":1,"height":1,"data":{"name":"none"},"mark":"point"},{"width":1,"height":1,"data":{"name":"none"},"mark":"point"},
{"width":110,"height":345,
"layer":[
{"data":{"name":"wedgesB"},"mark":{"type":"arc","opacity":0.2},"encoding":{"x":{"datum":603,"type":"quantitative","scale":{"domain":[-138,192],"nice":false,"zero":false},"axis":null},"y":{"datum":502,"type":"quantitative","scale":{"domain":[1035,0],"nice":false,"zero":false},"axis":null},"theta":{"field":"t0","type":"quantitative","stack":null,"scale":{"domain":[0,360],"range":[0,6.28318]}},"theta2":{"field":"t1"},"radius":{"field":"r0","type":"quantitative","scale":{"type":"linear","domain":[0,600],"range":[0,200]}},"radius2":{"field":"r1"},"color":{"field":"g","type":"nominal","scale":{"domain":["VD","CS","ns","bb"],"range":["#008000","#ff0000","#c4bc00","#000000"]},"legend":null}}},
{"data":{"name":"spineB"},"mark":{"type":"arc"},"encoding":{"x":{"datum":603,"type":"quantitative","axis":null},"y":{"datum":502,"type":"quantitative","axis":null},"theta":{"field":"t0","type":"quantitative","stack":null},"theta2":{"field":"t1"},"radius":{"field":"r0","type":"quantitative"},"radius2":{"field":"r1"},"color":{"field":"g","type":"nominal","legend":null}}},
{"data":{"name":"edgesB"},"transform":[{"filter":"datum.k=='CS'||datum.k=='VD'"}],"mark":{"type":"rule","color":"#111","strokeWidth":3.6},"encoding":{"x":{"field":"x","type":"quantitative","axis":null},"y":{"field":"y","type":"quantitative","axis":null},"x2":{"field":"x2"},"y2":{"field":"y2"}}},
{"data":{"name":"edgesB"},"mark":{"type":"rule"},"encoding":{"x":{"field":"x","type":"quantitative","axis":null},"y":{"field":"y","type":"quantitative","axis":null},"x2":{"field":"x2"},"y2":{"field":"y2"},"stroke":{"field":"k","type":"nominal","legend":null},"strokeWidth":{"field":"k","type":"nominal","legend":null}}},
{"data":{"name":"nodesB"},"mark":{"type":"point","filled":true,"opacity":1,"stroke":"#111","strokeWidth":0.7,"shape":"circle"},"encoding":{"x":{"field":"x","type":"quantitative","axis":null},"y":{"field":"y","type":"quantitative","axis":null},"size":{"field":"abund","type":"quantitative","scale":{"type":"linear","domain":[0,100],"range":[0,100]},"legend":null},"color":{"field":"g","type":"nominal","legend":null}}},
{"data":{"name":"labelsB"},"mark":{"type":"text","font":"DejaVu Sans","fontSize":6,"color":"#333","align":"center","baseline":"middle"},"encoding":{"x":{"field":"x","type":"quantitative","axis":null},"y":{"field":"y","type":"quantitative","axis":null},"text":{"field":"t"},"angle":{"field":"a","type":"quantitative","scale":null}}},
{"data":{"name":"swB"},"mark":{"type":"point","shape":"M-1 -0.38H1V0.38H-1Z","filled":true,"opacity":1,"stroke":"#333","strokeWidth":0.8,"size":361},"encoding":{"x":{"field":"x","type":"quantitative","axis":null},"y":{"field":"y","type":"quantitative","axis":null},"color":{"field":"g","type":"nominal","legend":null}}},
{"data":{"name":"capsB"},"mark":{"type":"text","font":"Liberation Sans","fontSize":9,"color":"#111","align":"left","baseline":"middle"},"encoding":{"x":{"field":"x","type":"quantitative","axis":null},"y":{"field":"y","type":"quantitative","axis":null},"text":{"field":"t"}}},
{"data":{"name":"dayB"},"mark":{"type":"text","font":"Liberation Sans","fontSize":16.5,"color":"#111","align":"left","baseline":"middle"},"encoding":{"x":{"field":"x","type":"quantitative","axis":null},"y":{"field":"y","type":"quantitative","axis":null},"text":{"field":"t"}}},
{"data":{"name":"letterB"},"mark":{"type":"text","font":"Liberation Sans","fontWeight":"bold","fontSize":16.5,"color":"#000","align":"center","baseline":"middle"},"encoding":{"x":{"field":"x","type":"quantitative","axis":null},"y":{"field":"y","type":"quantitative","axis":null},"text":{"field":"t"}}}
]},
{"width":1,"height":1,"data":{"name":"none"},"mark":"point"},{"width":1,"height":1,"data":{"name":"none"},"mark":"point"},
{"width":100,"height":188,
"layer":[
{"data":{"name":"lists"},"mark":{"type":"point","shape":"M-1 -0.36H1V0.36H-1Z","filled":true,"opacity":1,"stroke":"#222","strokeWidth":1,"size":144},"encoding":{"x":{"field":"sx","type":"quantitative","scale":{"domain":[0,100],"nice":false,"zero":false},"axis":null},"y":{"field":"y","type":"quantitative","scale":{"domain":[533,345],"nice":false,"zero":false},"axis":null},"color":{"field":"g","type":"nominal","scale":{"domain":["VD","CS"],"range":["#008000","#ff0000"]},"legend":null}}},
{"data":{"name":"lists"},"mark":{"type":"text","font":"DejaVu Sans","fontSize":5.6,"color":"#333","align":"left","baseline":"middle"},"encoding":{"x":{"field":"tx","type":"quantitative","axis":null},"y":{"field":"y","type":"quantitative","axis":null},"text":{"field":"t"}}},
{"data":{"values":[{"x":22,"y":492,"t":"C"}]},"mark":{"type":"text","font":"Liberation Sans","fontWeight":"bold","fontSize":16.5,"color":"#000","align":"center","baseline":"middle"},"encoding":{"x":{"field":"x","type":"quantitative","axis":null},"y":{"field":"y","type":"quantitative","axis":null},"text":{"field":"t"}}},
{"data":{"values":[{"x":481.5,"y":503,"t":"Spearman Correlation Heatmap"}]},"mark":{"type":"text","font":"DejaVu Sans","fontSize":21.5,"color":"#000","align":"center","baseline":"middle"},"encoding":{"x":{"field":"x","type":"quantitative","axis":null},"y":{"field":"y","type":"quantitative","axis":null},"text":{"field":"t"}}}
]},
{"width":1,"height":1,"data":{"name":"none"},"mark":"point"},{"width":1,"height":1,"data":{"name":"none"},"mark":"point"},{"width":1,"height":1,"data":{"name":"none"},"mark":"point"},{"width":1,"height":1,"data":{"name":"none"},"mark":"point"},{"width":1,"height":1,"data":{"name":"none"},"mark":"point"},
{"width":1,"height":1,"data":{"name":"none"},"mark":"point"},{"width":1,"height":1,"data":{"name":"none"},"mark":"point"},{"width":1,"height":1,"data":{"name":"none"},"mark":"point"},
{"width":110,"height":578,
"data":{"name":"heat"},
"encoding":{"x":{"field":"v","type":"nominal","sort":["IL 4","IL 10"],"title":null,"scale":{"padding":0,"range":[61.7,291]},"axis":{"labelAngle":0,"labelFont":"DejaVu Sans","labelFontSize":13,"labelColor":"#222","domain":false,"tickColor":"#333","tickSize":3,"labelPadding":3}},
"y":{"field":"g","type":"nominal","sort":null,"title":null,"scale":{"padding":0},"axis":{"offset":-61.7,"labelFont":"DejaVu Sans","labelFontSize":12.85,"labelColor":"#111","labelLimit":300,"domain":false,"tickColor":"#333","tickSize":3,"labelPadding":2}}},
"layer":[
{"mark":{"type":"rect"},"encoding":{"color":{"field":"r","type":"quantitative","scale":{"domain":[-0.75,0,0.75],"range":["#0000ff","#ffffff","#ff0000"],"interpolate":"rgb"},"legend":{"title":null,"type":"gradient","orient":"none","legendX":305,"legendY":0,"gradientLength":578,"gradientThickness":28,"values":[-0.75,-0.5,-0.25,0,0.25,0.5,0.75],"format":".2f","labelFont":"DejaVu Sans","labelFontSize":9.8,"labelColor":"#222","labelOffset":7,"labelOverlap":false}}}},
{"transform":[{"filter":"datum.s"}],"mark":{"type":"text","font":"DejaVu Sans","fontSize":20,"color":"#000","baseline":"middle","dy":3},"encoding":{"text":{"field":"s"}}}
]},
{"width":1,"height":1,"data":{"name":"none"},"mark":"point"},{"width":1,"height":1,"data":{"name":"none"},"mark":"point"},
{"width":100,"height":45,"data":{"values":[{"x":23,"y":1152,"t":"D"}]},"mark":{"type":"text","font":"Liberation Sans","fontWeight":"bold","fontSize":16.5,"color":"#000","align":"center","baseline":"middle"},"encoding":{"x":{"field":"x","type":"quantitative","scale":{"domain":[0,100],"nice":false,"zero":false},"axis":null},"y":{"field":"y","type":"quantitative","scale":{"domain":[1156,1111],"nice":false,"zero":false},"axis":null},"text":{"field":"t"}}},
{"width":1,"height":1,"data":{"name":"none"},"mark":"point"},{"width":1,"height":1,"data":{"name":"none"},"mark":"point"},{"width":1,"height":1,"data":{"name":"none"},"mark":"point"},{"width":1,"height":1,"data":{"name":"none"},"mark":"point"},{"width":1,"height":1,"data":{"name":"none"},"mark":"point"},
{"width":100,"height":174,"data":{"name":"none"},"mark":"point"},
{"width":111,"height":174.7,
"encoding":{"x":{"field":"pos","type":"quantitative","scale":{"domain":[0.333,2.646],"nice":false,"zero":false},"axis":{"labels":false,"ticks":false,"title":null,"domainColor":"#555","domainWidth":1.3}},"y":{"type":"quantitative","scale":{"domain":[0,0.04],"nice":false},"axis":{"values":[0,0.01,0.02,0.03,0.04],"format":".2f","title":"Ruminococcus","titleFont":"Liberation Sans","titleFontSize":14.2,"titleFontWeight":"normal","titleColor":"#111","titleX":-45,"labelFont":"Liberation Sans","labelFontSize":12,"labelColor":"#222","domainColor":"#555","domainWidth":1.3,"tickColor":"#555","tickWidth":1.3,"tickSize":6}}},
"layer":[
{"data":{"name":"bar1"},"mark":{"type":"bar","orient":"vertical","width":27.4,"stroke":"#4a3020","strokeWidth":1},"encoding":{"y":{"field":"m","type":"quantitative"},"color":{"field":"g","type":"nominal","scale":{"domain":["VD_OVA","CS_OVA"],"range":["#fa9282","#fdc864"]},"legend":null}}},
{"data":{"name":"bar1"},"mark":{"type":"rule","color":"#444","strokeWidth":1},"encoding":{"y":{"field":"lo","type":"quantitative"},"y2":{"field":"hi"}}},
{"data":{"name":"bar1"},"mark":{"type":"tick","orient":"horizontal","color":"#444","thickness":1,"size":14},"encoding":{"y":{"field":"hi","type":"quantitative"}}},
{"data":{"name":"bar1"},"mark":{"type":"tick","orient":"horizontal","color":"#444","thickness":1,"size":14},"encoding":{"y":{"field":"lo","type":"quantitative"}}},
{"data":{"name":"pts1"},"mark":{"type":"point","filled":true,"opacity":1,"size":17,"stroke":"#5a2a1a","strokeWidth":0.8},"encoding":{"y":{"field":"v","type":"quantitative"},"shape":{"field":"g","type":"nominal","scale":{"domain":["VD_OVA","CS_OVA"],"range":["circle","square"]},"legend":null},"fill":{"field":"g","type":"nominal","scale":{"domain":["VD_OVA","CS_OVA"],"range":["#fa9282","#f9b93f"]},"legend":null}}},
{"data":{"name":"br1"},"mark":{"type":"rule","color":"#333","strokeWidth":1},"encoding":{"x":{"field":"a","type":"quantitative"},"x2":{"field":"b"},"y":{"field":"y","type":"quantitative"}}},
{"data":{"name":"br1"},"mark":{"type":"rule","color":"#333","strokeWidth":1},"encoding":{"x":{"field":"a","type":"quantitative"},"y":{"field":"c0","type":"quantitative"},"y2":{"field":"c1"}}},
{"data":{"name":"br1"},"mark":{"type":"rule","color":"#333","strokeWidth":1},"encoding":{"x":{"field":"b","type":"quantitative"},"y":{"field":"c0","type":"quantitative"},"y2":{"field":"c1"}}},
{"data":{"name":"br1"},"mark":{"type":"text","font":"Liberation Sans","fontSize":15,"color":"#111","baseline":"middle"},"encoding":{"x":{"field":"mid","type":"quantitative"},"y":{"field":"ty","type":"quantitative"},"text":{"field":"t"}}}
]},
{"width":94,"height":174,"data":{"name":"none"},"mark":"point"},
{"width":110,"height":174.7,
"encoding":{"x":{"field":"pos","type":"quantitative","scale":{"domain":[0.344,2.650],"nice":false,"zero":false},"axis":{"labels":false,"ticks":false,"title":null,"domainColor":"#555","domainWidth":1.3}},"y":{"type":"quantitative","scale":{"domain":[0,0.5],"nice":false},"axis":{"values":[0,0.1,0.2,0.3,0.4,0.5],"format":".1f","title":"norank_f__Muribaculaceae","titleFont":"Liberation Sans","titleFontSize":14,"titleFontWeight":"normal","titleColor":"#111","titleX":-38,"labelFont":"Liberation Sans","labelFontSize":12,"labelColor":"#222","domainColor":"#555","domainWidth":1.3,"tickColor":"#555","tickWidth":1.3,"tickSize":6}}},
"layer":[
{"data":{"name":"bar2"},"mark":{"type":"bar","orient":"vertical","width":27.4,"stroke":"#4a3020","strokeWidth":1},"encoding":{"y":{"field":"m","type":"quantitative"},"color":{"field":"g","type":"nominal","scale":{"domain":["VD_OVA","CS_OVA"],"range":["#fa9282","#fdc864"]},"legend":null}}},
{"data":{"name":"bar2"},"mark":{"type":"rule","color":"#444","strokeWidth":1},"encoding":{"y":{"field":"lo","type":"quantitative"},"y2":{"field":"hi"}}},
{"data":{"name":"bar2"},"mark":{"type":"tick","orient":"horizontal","color":"#444","thickness":1,"size":14},"encoding":{"y":{"field":"hi","type":"quantitative"}}},
{"data":{"name":"bar2"},"mark":{"type":"tick","orient":"horizontal","color":"#444","thickness":1,"size":14},"encoding":{"y":{"field":"lo","type":"quantitative"}}},
{"data":{"name":"pts2"},"mark":{"type":"point","filled":true,"opacity":1,"size":17,"stroke":"#5a2a1a","strokeWidth":0.8},"encoding":{"y":{"field":"v","type":"quantitative"},"shape":{"field":"g","type":"nominal","legend":null},"fill":{"field":"g","type":"nominal","legend":null}}},
{"data":{"name":"br2"},"mark":{"type":"rule","color":"#333","strokeWidth":1},"encoding":{"x":{"field":"a","type":"quantitative"},"x2":{"field":"b"},"y":{"field":"y","type":"quantitative"}}},
{"data":{"name":"br2"},"mark":{"type":"rule","color":"#333","strokeWidth":1},"encoding":{"x":{"field":"a","type":"quantitative"},"y":{"field":"c0","type":"quantitative"},"y2":{"field":"c1"}}},
{"data":{"name":"br2"},"mark":{"type":"rule","color":"#333","strokeWidth":1},"encoding":{"x":{"field":"b","type":"quantitative"},"y":{"field":"c0","type":"quantitative"},"y2":{"field":"c1"}}},
{"data":{"name":"br2"},"mark":{"type":"text","font":"Liberation Sans","fontSize":17,"color":"#111","baseline":"middle","dy":3},"encoding":{"x":{"field":"mid","type":"quantitative"},"y":{"field":"ty","type":"quantitative"},"text":{"field":"t"}}}
]},
{"width":91,"height":174,"data":{"name":"none"},"mark":"point"},
{"width":107,"height":176.7,
"encoding":{"x":{"field":"pos","type":"quantitative","scale":{"domain":[0.347,2.653],"nice":false,"zero":false},"axis":{"labels":false,"ticks":false,"title":null,"domainColor":"#555","domainWidth":1.3}},"y":{"type":"quantitative","scale":{"domain":[0,0.2116],"nice":false},"axis":{"values":[0,0.05,0.1,0.15,0.2],"format":".2f","domain":false,"title":"unclassified_f__Prevotellaceae","titleFont":"Liberation Sans","titleFontSize":14,"titleFontWeight":"normal","titleColor":"#111","titleX":-58.5,"titleY":94,"labelFont":"Liberation Sans","labelFontSize":12,"labelColor":"#222","tickColor":"#555","tickWidth":1.3,"tickSize":6}}},
"layer":[
{"data":{"name":"axis3"},"mark":{"type":"rule","color":"#555","strokeWidth":1.3},"encoding":{"y":{"field":"y0","type":"quantitative"},"y2":{"field":"y1"}}},
{"data":{"name":"bar3"},"mark":{"type":"bar","orient":"vertical","width":26.7,"stroke":"#4a3020","strokeWidth":1},"encoding":{"y":{"field":"m","type":"quantitative"},"color":{"field":"g","type":"nominal","scale":{"domain":["VD_OVA","CS_OVA"],"range":["#fa9282","#fdc864"]},"legend":null}}},
{"data":{"name":"bar3"},"mark":{"type":"rule","color":"#444","strokeWidth":1},"encoding":{"y":{"field":"lo","type":"quantitative"},"y2":{"field":"hi"}}},
{"data":{"name":"bar3"},"mark":{"type":"tick","orient":"horizontal","color":"#444","thickness":1,"size":14},"encoding":{"y":{"field":"hi","type":"quantitative"}}},
{"data":{"name":"bar3"},"mark":{"type":"tick","orient":"horizontal","color":"#444","thickness":1,"size":14},"encoding":{"y":{"field":"lo","type":"quantitative"}}},
{"data":{"name":"pts3"},"mark":{"type":"point","filled":true,"opacity":1,"size":17,"stroke":"#5a2a1a","strokeWidth":0.8},"encoding":{"y":{"field":"v","type":"quantitative"},"shape":{"field":"g","type":"nominal","legend":null},"fill":{"field":"g","type":"nominal","legend":null}}},
{"data":{"name":"br3"},"mark":{"type":"rule","color":"#333","strokeWidth":1},"encoding":{"x":{"field":"a","type":"quantitative"},"x2":{"field":"b"},"y":{"field":"y","type":"quantitative"}}},
{"data":{"name":"br3"},"mark":{"type":"rule","color":"#333","strokeWidth":1},"encoding":{"x":{"field":"a","type":"quantitative"},"y":{"field":"c0","type":"quantitative"},"y2":{"field":"c1"}}},
{"data":{"name":"br3"},"mark":{"type":"rule","color":"#333","strokeWidth":1},"encoding":{"x":{"field":"b","type":"quantitative"},"y":{"field":"c0","type":"quantitative"},"y2":{"field":"c1"}}},
{"data":{"name":"br3"},"mark":{"type":"text","font":"Liberation Sans","fontSize":17,"color":"#111","baseline":"middle","dy":3},"encoding":{"x":{"field":"mid","type":"quantitative"},"y":{"field":"ty","type":"quantitative"},"text":{"field":"t"}}},
{"data":{"name":"key3"},"mark":{"type":"point","filled":true,"opacity":1,"size":17,"stroke":"#5a2a1a","strokeWidth":0.8},"encoding":{"y":{"field":"v","type":"quantitative"},"shape":{"field":"g","type":"nominal","legend":null},"fill":{"field":"g","type":"nominal","legend":null}}},
{"data":{"name":"key3"},"mark":{"type":"text","font":"Liberation Sans","fontSize":12.5,"color":"#111","align":"left","baseline":"middle"},"encoding":{"x":{"field":"tpos","type":"quantitative"},"y":{"field":"v","type":"quantitative"},"text":{"field":"g"}}}
]}
]}
